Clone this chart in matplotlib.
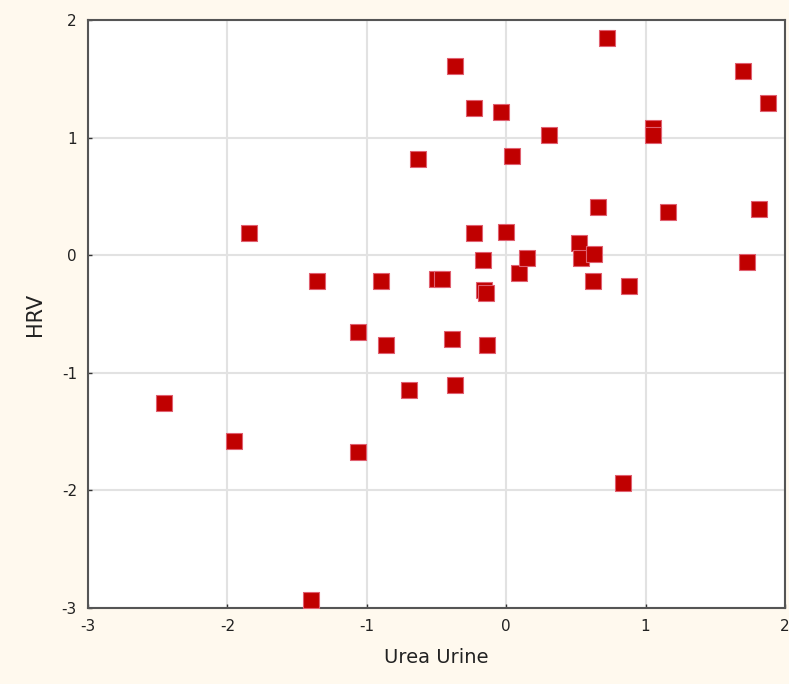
import matplotlib
matplotlib.use("Agg")
import matplotlib.pyplot as plt

urea_urine = [-2.455, -1.95, -1.845, -1.40, -1.36, -1.06, -1.06, -0.90, -0.86, -0.70,
              -0.63, -0.50, -0.46, -0.37, -0.37, -0.39, -0.23, -0.23, -0.165, -0.16,
              -0.145, -0.14, -0.04, 0.00, 0.04, 0.09, 0.15, 0.31, 0.52, 0.54,
              0.63, 0.62, 0.66, 0.72, 0.84, 0.88, 1.05, 1.05, 1.16, 1.70,
              1.73, 1.81, 1.88]
hrv = [-1.26, -1.58, 0.19, -2.93, -0.22, -1.67, -0.65, -0.22, -0.76, -1.15,
       0.82, -0.20, -0.20, 1.61, -1.10, -0.71, 1.25, 0.19, -0.04, -0.30,
       -0.32, -0.76, 1.22, 0.20, 0.84, -0.15, -0.02, 1.02, 0.10, -0.02,
       0.01, -0.22, 0.41, 1.85, -1.94, -0.26, 1.08, 1.02, 0.37, 1.57,
       -0.06, 0.39, 1.29]

x_ticks = [-3, -2, -1, 0, 1, 2]
y_ticks = [-3, -2, -1, 0, 1, 2]

bg = "#FFF9EE"
fig = plt.figure(figsize=(7.89, 6.84), dpi=100, facecolor=bg)
ax = fig.add_axes([88/789, 76/684, (785-88)/789, (608-20)/684])
ax.set_facecolor("white")

ax.scatter(urea_urine, hrv, marker="s", s=11.5**2, facecolor="#C00000",
           edgecolor="#E06070", linewidths=0.8, zorder=3)

ax.set_xlim(-3, 2)
ax.set_ylim(-3, 2)
ax.set_xticks(x_ticks)
ax.set_yticks(y_ticks)
ax.set_xticklabels([str(v) for v in x_ticks])
ax.set_yticklabels([str(v) for v in y_ticks])
ax.grid(True, color="#E2E2E2", linewidth=1.5, zorder=0)
ax.set_axisbelow(True)
for sp in ax.spines.values():
    sp.set_color("#555555")
    sp.set_linewidth(1.5)
ax.tick_params(axis="both", direction="in", length=3, width=1, color="#333333",
               labelsize=11, labelcolor="#222222", pad=8)

ax.set_xlabel("Urea Urine", fontsize=14, color="#222222", labelpad=10)
ax.set_ylabel("HRV", fontsize=15, color="#222222", labelpad=12)

fig.savefig("out.png", dpi=100, facecolor=bg)
